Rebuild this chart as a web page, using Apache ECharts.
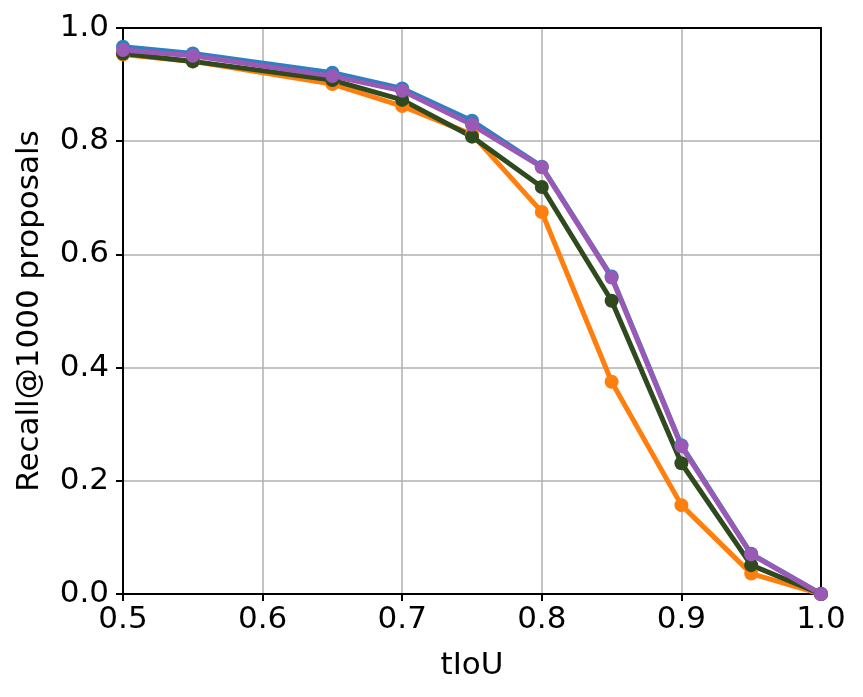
<!DOCTYPE html>
<html>
<head>
<meta charset="utf-8">
<script src="https://cdn.jsdelivr.net/npm/echarts@6/dist/echarts.min.js"></script>
<style>
    html, body { margin: 0; padding: 0; background: #fff; }
    #main { width: 863px; height: 697px; }
</style>
</head>
<body>
<div id="main"></div>
<script>
    var tiou = [0.5, 0.55, 0.65, 0.7, 0.75, 0.8, 0.85, 0.9, 0.95, 1.0];
    var blueVals   = [0.967, 0.955, 0.921, 0.893, 0.836, 0.755, 0.561, 0.263, 0.071, 0.0];
    var orangeVals = [0.953, 0.941, 0.901, 0.862, 0.812, 0.675, 0.375, 0.157, 0.036, 0.0];
    var greenVals  = [0.955, 0.941, 0.908, 0.873, 0.808, 0.719, 0.518, 0.231, 0.051, 0.0];
    var purpleVals = [0.961, 0.951, 0.915, 0.889, 0.829, 0.754, 0.559, 0.261, 0.070, 0.0];

    var font = 'DejaVu Sans';

    function pairs(vals) {
        return tiou.map(function (x, i) {
            return [x, vals[i]];
        });
    }

    function line(name, color, vals) {
        return {
            name: name,
            type: 'line',
            data: pairs(vals),
            symbol: 'circle',
            symbolSize: 14,
            lineStyle: {width: 5, color: color},
            itemStyle: {color: color},
            animation: false
        };
    }

    // plain black frame for the top and right sides
    var frame = {
        show: true,
        axisLine: {show: true, onZero: false, lineStyle: {color: '#000', width: 2}},
        axisTick: {show: false},
        axisLabel: {show: false},
        splitLine: {show: false}
    };

    var charts = echarts.init(document.getElementById('main'));
    charts.setOption({
        backgroundColor: '#fff',
        grid: {
            left: 123,
            right: 42,
            top: 28,
            bottom: 103
        },
        xAxis: [{
            type: 'value',
            min: 0.5,
            max: 1.0,
            interval: 0.1,
            name: 'tIoU',
            nameLocation: 'middle',
            nameGap: 56,
            nameTextStyle: {fontFamily: font, fontSize: 31, color: '#000'},
            axisLine: {show: true, onZero: false, lineStyle: {color: '#000', width: 2}},
            axisTick: {show: true, length: 7, lineStyle: {color: '#000', width: 2}},
            axisLabel: {
                fontFamily: font, fontSize: 31, color: '#000', margin: 10,
                formatter: function (v) { return v.toFixed(1); }
            },
            splitLine: {show: true, lineStyle: {color: '#b0b0b0', width: 1.5}}
        }, Object.assign({type: 'value', position: 'top', min: 0.5, max: 1.0}, frame)],
        yAxis: [{
            type: 'value',
            min: 0,
            max: 1.0,
            interval: 0.2,
            name: 'Recall@1000 proposals',
            nameLocation: 'middle',
            nameGap: 78,
            nameTextStyle: {fontFamily: font, fontSize: 31, color: '#000'},
            axisLine: {show: true, onZero: false, lineStyle: {color: '#000', width: 2}},
            axisTick: {show: true, length: 7, lineStyle: {color: '#000', width: 2}},
            axisLabel: {
                fontFamily: font, fontSize: 31, color: '#000', margin: 14,
                formatter: function (v) { return v.toFixed(1); }
            },
            splitLine: {show: true, lineStyle: {color: '#b0b0b0', width: 1.5}}
        }, Object.assign({type: 'value', position: 'right', min: 0, max: 1.0}, frame)],
        series: [
            line('blue', '#2f7fc1', blueVals),
            line('orange', '#ff7f0e', orangeVals),
            line('green', '#2e4a1e', greenVals),
            line('purple', '#9b59b6', purpleVals)
        ]
    });
</script>
</body>
</html>
